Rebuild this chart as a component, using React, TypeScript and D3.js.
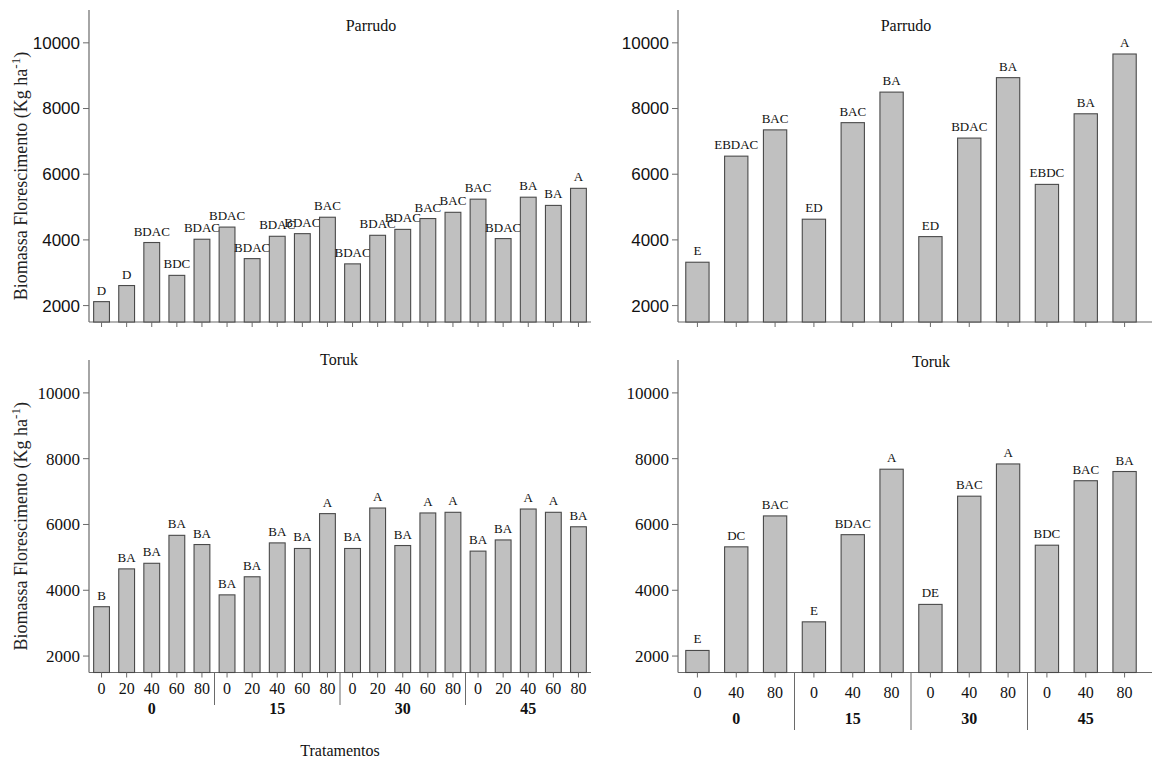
import React from 'react';
import * as d3 from 'd3';

const groups = ['0', '15', '30', '45'];
const dosesLeft = ['0', '20', '40', '60', '80'];
const dosesRight = ['0', '40', '80'];
const yTicks = [2000, 4000, 6000, 8000, 10000];

const parrudoLeft = [2120, 2610, 3920, 2920, 4020, 4390, 3430, 4110, 4190, 4690, 3270, 4140, 4320, 4650, 4840, 5240, 4040, 5300, 5050, 5570];
const parrudoLeftLetters = ['D', 'D', 'BDAC', 'BDC', 'BDAC', 'BDAC', 'BDAC', 'BDAC', 'BDAC', 'BAC', 'BDAC', 'BDAC', 'BDAC', 'BAC', 'BAC', 'BAC', 'BDAC', 'BA', 'BA', 'A'];
const torukLeft = [3500, 4650, 4820, 5670, 5390, 3860, 4410, 5440, 5270, 6330, 5270, 6500, 5360, 6350, 6370, 5190, 5530, 6470, 6370, 5930];
const torukLeftLetters = ['B', 'BA', 'BA', 'BA', 'BA', 'BA', 'BA', 'BA', 'BA', 'A', 'BA', 'A', 'BA', 'A', 'A', 'BA', 'BA', 'A', 'A', 'BA'];
const parrudoRight = [3320, 6550, 7350, 4630, 7570, 8500, 4100, 7100, 8940, 5690, 7840, 9660];
const parrudoRightLetters = ['E', 'EBDAC', 'BAC', 'ED', 'BAC', 'BA', 'ED', 'BDAC', 'BA', 'EBDC', 'BA', 'A'];
const torukRight = [2170, 5320, 6260, 3040, 5690, 7680, 3570, 6860, 7840, 5370, 7330, 7610];
const torukRightLetters = ['E', 'DC', 'BAC', 'E', 'BDAC', 'A', 'DE', 'BAC', 'A', 'BDC', 'BAC', 'BA'];

const SERIF = '"Liberation Serif", "Times New Roman", serif';
const SANS = '"Liberation Sans", Arial, sans-serif';
const AXIS = '#6a6a6a';

type PanelProps = {
  x0: number; x1: number; yTop: number; yAxis: number;
  doses: string[]; values: number[]; letters: string[];
  padding: number; title: string; titleX: number; titleY: number;
  tickFont: string; showX: boolean; sepBottom?: number;
  tickBase?: number; groupBase?: number; axisExtra: number;
  yLabel: boolean;
};

function Panel(p: PanelProps) {
  const cats: string[] = [];
  groups.forEach((g) => p.doses.forEach((d) => cats.push(g + '|' + d)));
  const x = d3.scaleBand<string>().domain(cats).range([p.x0, p.x1]).paddingInner(p.padding).paddingOuter(p.padding / 2);
  const y = d3.scaleLinear().domain([1500, 11000]).range([p.yAxis, p.yTop]);
  const bw = x.bandwidth();
  const n = p.doses.length;
  const step = x.step();
  return (
    <g>
      {/* y axis */}
      <line x1={p.x0} x2={p.x0} y1={p.yTop} y2={p.yAxis} stroke={AXIS} strokeWidth={1.2} />
      {yTicks.map((t) => (
        <g key={t}>
          <line x1={p.x0 - 6} x2={p.x0} y1={y(t)} y2={y(t)} stroke={AXIS} strokeWidth={1} />
          <text x={p.x0 - 9} y={y(t)} dy="0.35em" textAnchor="end" fontFamily={p.tickFont} fontSize={17} fill="#111">{t}</text>
        </g>
      ))}
      {/* x axis */}
      <line x1={p.x0} x2={p.x1 + p.axisExtra} y1={p.yAxis} y2={p.yAxis} stroke={AXIS} strokeWidth={1.2} />
      {cats.map((c, i) => {
        const cx = (x(c) as number) + bw / 2;
        return (
          <g key={c}>
            <rect x={x(c)} y={y(p.values[i])} width={bw} height={p.yAxis - y(p.values[i])} fill="#c0c0c0" stroke="#4a4a4a" strokeWidth={1.1} />
            <line x1={cx} x2={cx} y1={p.yAxis} y2={p.yAxis + 5} stroke={AXIS} strokeWidth={1} />
            <text x={cx} y={y(p.values[i]) - 7} textAnchor="middle" fontFamily={SERIF} fontSize={13} fill="#111">{p.letters[i]}</text>
            {p.showX && (
              <text x={cx} y={p.tickBase} textAnchor="middle" fontFamily={SERIF} fontSize={16} fill="#111">{c.split('|')[1]}</text>
            )}
          </g>
        );
      })}
      {p.showX && groups.map((g, gi) => {
        const first = x(g + '|' + p.doses[0]) as number;
        const last = x(g + '|' + p.doses[n - 1]) as number;
        const gc = (first + last + bw) / 2;
        const sepX = first - (step - bw) / 2;
        return (
          <g key={g}>
            <text x={gc} y={p.groupBase} textAnchor="middle" fontFamily={SERIF} fontSize={16} fontWeight="bold" fill="#111">{g}</text>
            {gi > 0 && <line x1={sepX} x2={sepX} y1={p.yAxis} y2={p.sepBottom} stroke={AXIS} strokeWidth={1} />}
          </g>
        );
      })}
      <text x={p.titleX} y={p.titleY} textAnchor="middle" fontFamily={SERIF} fontSize={16} fill="#111">{p.title}</text>
      {p.yLabel && (
        <text transform={`translate(27,${(p.yTop + p.yAxis) / 2 + 10}) rotate(-90)`} textAnchor="middle" fontFamily={SERIF} fontSize={18} fill="#222">
          Biomassa Florescimento (Kg ha<tspan dy="-7" fontSize={13}>-1</tspan><tspan dy="7">)</tspan>
        </text>
      )}
    </g>
  );
}

export default function App() {
  return (
    <svg width={1160} height={760} style={{ position: 'absolute', left: 0, top: 0, background: '#fff' }}>
      <rect width={1160} height={760} fill="#fff" />
      <Panel x0={89} x1={591} yTop={10} yAxis={322} doses={dosesLeft} values={parrudoLeft} letters={parrudoLeftLetters}
        padding={0.37} title="Parrudo" titleX={371} titleY={31} tickFont={SANS} showX={false} axisExtra={0} yLabel={true} />
      <Panel x0={678} x1={1144} yTop={10} yAxis={322} doses={dosesRight} values={parrudoRight} letters={parrudoRightLetters}
        padding={0.4} title="Parrudo" titleX={906} titleY={31} tickFont={SANS} showX={false} axisExtra={8} yLabel={false} />
      <Panel x0={89} x1={591} yTop={360} yAxis={672.5} doses={dosesLeft} values={torukLeft} letters={torukLeftLetters}
        padding={0.37} title="Toruk" titleX={339} titleY={365} tickFont={SERIF} showX={true} sepBottom={705}
        tickBase={694} groupBase={714} axisExtra={0} yLabel={true} />
      <Panel x0={678} x1={1144} yTop={360} yAxis={672.5} doses={dosesRight} values={torukRight} letters={torukRightLetters}
        padding={0.4} title="Toruk" titleX={931} titleY={367} tickFont={SERIF} showX={true} sepBottom={730}
        tickBase={698} groupBase={724} axisExtra={8} yLabel={false} />
      <text x={340} y={756} textAnchor="middle" fontFamily={SERIF} fontSize={16} fill="#111">Tratamentos</text>
    </svg>
  );
}
